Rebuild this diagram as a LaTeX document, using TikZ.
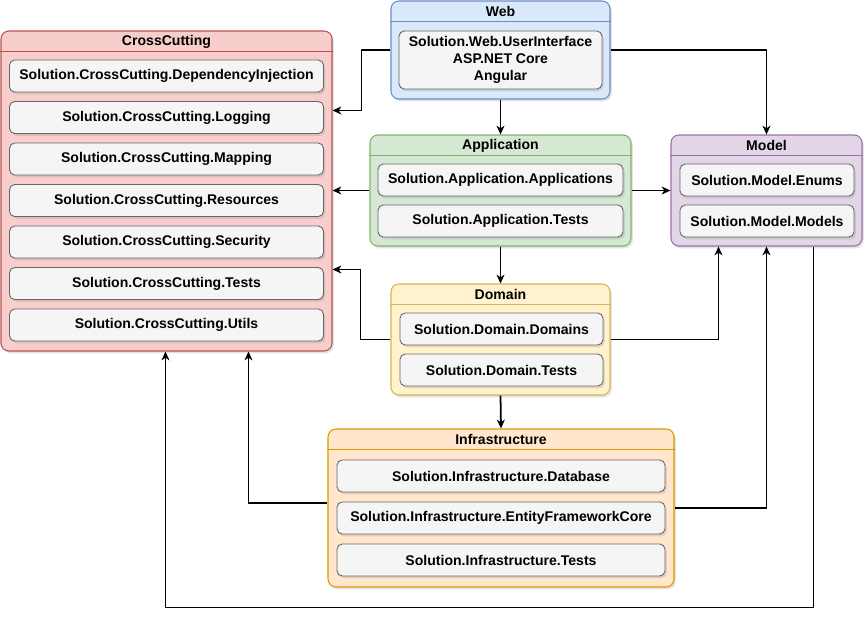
\documentclass[tikz,border=0pt]{standalone}
\usepackage{fontspec}
\setmainfont{Liberation Sans}
\usetikzlibrary{arrows.meta, calc, shadows}
\definecolor{ccfill}{HTML}{F8CECC}\definecolor{ccline}{HTML}{B85450}
\definecolor{webfill}{HTML}{DAE8FC}\definecolor{webline}{HTML}{6C8EBF}
\definecolor{appfill}{HTML}{D5E8D4}\definecolor{appline}{HTML}{82B366}
\definecolor{modfill}{HTML}{E1D5E7}\definecolor{modline}{HTML}{9673A6}
\definecolor{domfill}{HTML}{FFF2CC}\definecolor{domline}{HTML}{D6B656}
\definecolor{inffill}{HTML}{FFE6CC}\definecolor{infline}{HTML}{D79B00}
\definecolor{boxfill}{HTML}{F5F5F5}\definecolor{boxline}{HTML}{666666}
\tikzset{
    wh/.style 2 args={minimum width=#1*0.02cm, minimum height=#2*0.02cm},
    shade/.style={drop shadow={shadow xshift=1pt, shadow yshift=-1.3pt, opacity=0.22}},
    grp/.style={draw=#1line, fill=#1fill, line width=0.6pt, rounded corners=4.5pt, shade, inner sep=0pt},
    mod/.style={draw=boxline, fill=boxfill, line width=0.5pt, rounded corners=3pt, shade, inner sep=0pt,
        align=center, font=\fontsize{8}{9.7}\selectfont\bfseries},
    ttl/.style={font=\fontsize{8}{9}\selectfont\bfseries, inner sep=0pt},
    dep/.style={-{Stealth[length=5pt, width=4.5pt, inset=1.5pt]}, line width=1pt}
}
\begin{document}
\begin{tikzpicture}[x=0.02cm, y=-0.02cm]
    \useasboundingbox (0,0) rectangle (868,619);

    % layers
    \node[grp=cc, wh={331}{320}] (cc) at (166.5,191) {};
    \node[grp=web, wh={219}{98}] (web) at (500.5,50) {};
    \node[grp=app, wh={261}{111}] (app) at (500.5,190.5) {};
    \node[grp=mod, wh={191}{111}] (model) at (766.5,190.5) {};
    \node[grp=dom, wh={219}{111}] (dom) at (500.5,339.5) {};
    \node[grp=inf, wh={346}{158}] (inf) at (501,508) {};

    % headers
    \foreach \g/\c/\t in {cc/cc/CrossCutting, web/web/Web, app/app/Application,
            model/mod/Model, dom/dom/Domain, inf/inf/Infrastructure} {
        \draw[\c line, line width=0.6pt] ($(\g.north west)+(0,21)$) -- ($(\g.north east)+(0,21)$);
        \node[ttl] (\g title) at ($(\g.north)+(0,11)$) {\t};
    }

    % projects
    \foreach \n [count=\i from 0] in {DependencyInjection, Logging, Mapping, Resources, Security, Tests, Utils}
        \node[mod, wh={314}{32}] (cc\i) at (166.5,{76+41.5*\i}) {Solution.CrossCutting.\n};
    \node[mod, wh={203}{58}] (web0) at (500.5,60) {Solution.Web.UserInterface\\ASP.NET Core\\Angular};
    \node[mod, wh={245}{32}] (app0) at (500.5,180) {Solution.Application.Applications};
    \node[mod, wh={245}{32}] (app1) at (500.5,221) {Solution.Application.Tests};
    \node[mod, wh={174}{32}] (model0) at (767,180) {Solution.Model.Enums};
    \node[mod, wh={174}{32}] (model1) at (767,221) {Solution.Model.Models};
    \node[mod, wh={203}{32}] (dom0) at (501.5,329) {Solution.Domain.Domains};
    \node[mod, wh={203}{32}] (dom1) at (501.5,370) {Solution.Domain.Tests};
    \foreach \n [count=\i from 0] in {Database, EntityFrameworkCore, Tests}
        \node[mod, wh={328}{32}] (inf\i) at (501,{476+42*\i}) {Solution.Infrastructure.\n};

    % dependencies
    \draw[dep] (web.west) -- ++(-29,0) |- ($(cc.north east)+(0,80)$);
    \draw[dep] (web.east) -| (model.north);
    \draw[dep] (web.south) -- (app.north);
    \draw[dep] (app.west) -- (cc.east |- app.west);
    \draw[dep] (app.east) -- (model.west);
    \draw[dep] (app.south) -- (dom.north);
    \draw[dep] (dom.west) -- ++(-30,0) |- ($(cc.north east)+(0,239)$);
    \draw[dep] (dom.east) -| ($(model.south west)+(48,0)$);
    \draw[dep] (dom.south) -- (inf.north);
    \draw[dep] ($(inf.west)+(0,-5)$) -| ($(cc.south west)+(248,0)$);
    \draw[dep] (inf.east) -| (model.south);
    \draw[dep] ($(model.south west)+(143,0)$) -- ++(0,361) -| ($(cc.south west)+(165,0)$);
\end{tikzpicture}
\end{document}
